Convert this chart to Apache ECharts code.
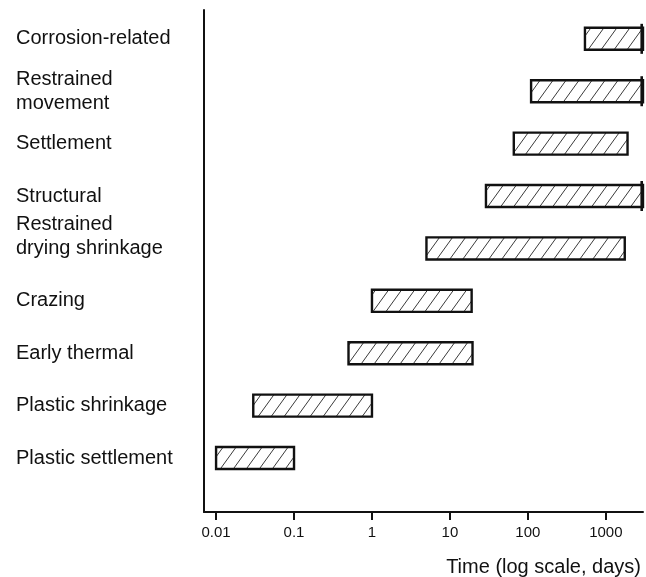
<!DOCTYPE html>
<html>
<head>
<meta charset="utf-8">
<script src="https://cdn.jsdelivr.net/npm/echarts@6/dist/echarts.min.js"></script>
<style>
  html, body { margin: 0; padding: 0; background: #fff; }
  #chart { width: 646px; height: 577px; }
</style>
</head>
<body>
<div id="chart"></div>
<script>
// Crack types, listed from top to bottom
const causes = [
  'Corrosion-related',
  'Restrained\nmovement',
  'Settlement',
  'Structural',
  'Restrained\ndrying shrinkage\n',
  'Crazing',
  'Early thermal',
  'Plastic shrinkage',
  'Plastic settlement'
];
// Period (days) in which each crack type typically appears
const startDays = [540, 110, 66, 29, 5, 1, 0.5, 0.03, 0.01];
const endDays   = [3000, 3000, 1900, 3000, 1750, 19, 19.5, 1, 0.1];

// Labelled decades on the time axis
const tickDays   = [0.01, 0.1, 1, 10, 100, 1000];
const tickLabels = ['0.01', '0.1', '1', '10', '100', '1000'];

const axisMinDays = 0.007;
const axisMaxDays = 3000;

const nRows = causes.length;
const rowValues = causes.map((c, k) => k);

// Diagonal hatching used to fill each period bar
function makeHatch() {
  const w = 13, h = 18;
  const cv = document.createElement('canvas');
  cv.width = w; cv.height = h;
  const ctx = cv.getContext('2d');
  ctx.strokeStyle = '#3a3a3a';
  ctx.lineWidth = 1;
  for (const dx of [-w, 0, w]) {
    ctx.beginPath();
    ctx.moveTo(dx, h);
    ctx.lineTo(dx + w, 0);
    ctx.stroke();
  }
  return cv;
}
const hatch = { image: makeHatch(), repeat: 'repeat' };

const seriesData = causes.map((c, k) => [nRows - 1 - k, startDays[k], endDays[k]]);

function renderItem(params, api) {
  const row = api.value(0);
  const s = api.value(1);
  const e = api.value(2);
  const p0 = api.coord([s, row]);
  const p1 = api.coord([e, row]);
  const band = Math.abs(api.coord([1, row + 1])[1] - p0[1]);
  const h = band * 0.42;
  const children = [{
    type: 'rect',
    shape: { x: p0[0], y: p0[1] - h / 2, width: p1[0] - p0[0], height: h },
    style: { fill: hatch, stroke: '#111', lineWidth: 2.4 }
  }];
  // Periods that continue beyond the axis get a closing bar at the edge
  if (e >= axisMaxDays) {
    children.push({
      type: 'line',
      shape: { x1: p1[0] - 1.3, y1: p0[1] - h / 2 - 4, x2: p1[0] - 1.3, y2: p0[1] + h / 2 + 4 },
      style: { stroke: '#111', lineWidth: 2.6 }
    });
  }
  return { type: 'group', children };
}

function decadeLabel(v) {
  for (let i = 0; i < tickDays.length; i++) {
    if (Math.abs(Math.log10(v) - Math.log10(tickDays[i])) < 1e-6) return tickLabels[i];
  }
  return '';
}

const chart = echarts.init(document.getElementById('chart'), null, { renderer: 'canvas' });
chart.setOption({
  animation: false,
  backgroundColor: '#fff',
  textStyle: { fontFamily: '"Liberation Sans", Arial, Helvetica, sans-serif', color: '#111' },
  grid: { left: 204, right: 0, top: 10, bottom: 65, containLabel: false },
  xAxis: {
    type: 'log',
    logBase: 10,
    min: axisMinDays,
    max: axisMaxDays,
    name: 'Time (log scale, days)',
    nameLocation: 'end',
    nameGap: 0,
    nameTextStyle: {
      fontSize: 20, color: '#111', align: 'right', verticalAlign: 'top',
      padding: [45, 2, 0, 0]
    },
    axisLine: { show: true, onZero: false, lineStyle: { color: '#111', width: 2 } },
    axisTick: {
      show: true, inside: false, length: 8,
      customValues: tickDays,
      lineStyle: { color: '#111', width: 2 }
    },
    axisLabel: {
      interval: 0, showMinLabel: true, showMaxLabel: true, hideOverlap: false,
      margin: 13, fontSize: 15, color: '#111',
      formatter: decadeLabel
    },
    splitLine: { show: false },
    minorTick: { show: false }
  },
  yAxis: {
    type: 'value',
    min: -1.03,
    max: 8.55,
    axisLine: { show: true, onZero: false, lineStyle: { color: '#111', width: 2 } },
    axisTick: { show: false },
    splitLine: { show: false },
    axisLabel: {
      customValues: rowValues,
      align: 'left',
      margin: 188,
      fontSize: 20,
      lineHeight: 24,
      color: '#111',
      padding: [0, 0, 8, 0],
      formatter: v => causes[nRows - 1 - Math.round(v)] || ''
    }
  },
  series: [{
    type: 'custom',
    renderItem,
    clip: false,
    dimensions: ['row', 'start', 'end'],
    encode: { x: [1, 2], y: 0 },
    data: seriesData
  }]
});
</script>
</body>
</html>
